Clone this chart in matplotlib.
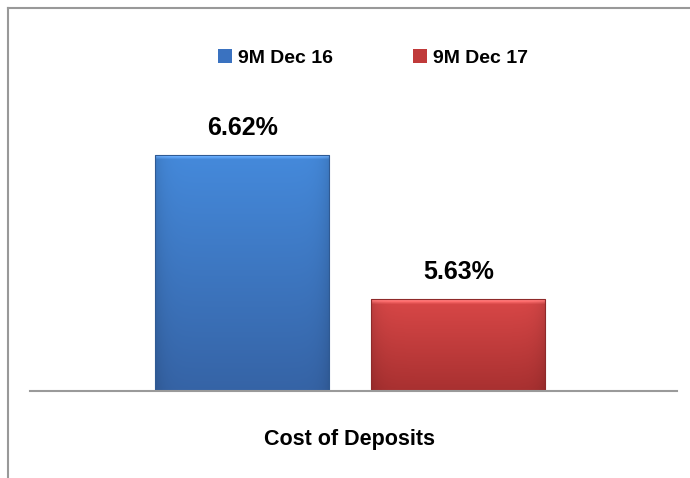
import numpy as np
import matplotlib
matplotlib.use("Agg")
import matplotlib.pyplot as plt
from matplotlib.patches import Patch
from matplotlib.lines import Line2D

plt.rcParams['font.family'] = ['Liberation Sans', 'DejaVu Sans']

# data
category = "Cost of Deposits"
series = ["9M Dec 16", "9M Dec 17"]
values = [6.62, 5.63]
value_labels = ["6.62%", "5.63%"]

# top/bottom gradient colours per series
top_cols = [(0.27, 0.54, 0.86), (0.85, 0.28, 0.28)]
bot_cols = [(0.21, 0.39, 0.65), (0.66, 0.19, 0.19)]
edge_cols = ["#2F5A93", "#8E2A2A"]
legend_cols = ["#3A72C0", "#C03A3A"]

fig = plt.figure(figsize=(6.9, 4.78), dpi=100)
ax = fig.add_axes([30 / 690, 87 / 478, 647 / 690, 291.4 / 478])

offsets = [-0.167, 0.167]
width = 0.269
bars = ax.bar(offsets, [v - 5.0 for v in values], width=width, bottom=5.0,
              color=legend_cols, edgecolor=edge_cols, linewidth=0.8, zorder=4)
for b in bars:
    b.set_facecolor("none")

ax.set_xlim(-0.495, 0.505)
ax.set_ylim(5.0, 7.0)

# gradient fill for each bar, clipped to the bar
px_per_unit = 291.4 / 2.0
for b, tc, bc in zip(bars, top_cols, bot_cols):
    tc = np.array(tc)
    bc = np.array(bc)
    ny = int(b.get_height() * px_per_unit)
    nx = 174
    yy = np.linspace(0, 1, ny)[:, None]
    xx = np.linspace(-1, 1, nx)[None, :]
    img = bc[None, None, :] * (1 - yy[..., None]) + tc[None, None, :] * yy[..., None]
    shade = 1 - 0.12 * (np.abs(xx) ** 10)
    img = img * shade[..., None]
    # thin lighter bevel along the top
    for k, f in zip(range(1, 6), [0.25, 0.2, 0.15, 0.09, 0.04]):
        img[-k, :, :] = np.clip(img[-k, :, :] + f, 0, 1)
    x0, y0 = b.get_x(), b.get_y()
    im = ax.imshow(img, origin="lower", aspect="auto",
                   extent=(x0, x0 + b.get_width(), y0, y0 + b.get_height()),
                   zorder=3)
    im.set_clip_path(b)

for b, lab in zip(bars, value_labels):
    ax.annotate(lab, (b.get_x() + b.get_width() / 2, b.get_y() + b.get_height()),
                xytext=(0, 11), textcoords="offset points",
                ha="center", va="bottom", fontsize=18, fontweight="bold",
                color="black")

ax.set_xlim(-0.495, 0.505)
ax.set_ylim(5.0, 7.0)
ax.set_xticks([])
ax.set_yticks([])
for s in ["top", "right", "left"]:
    ax.spines[s].set_visible(False)
ax.spines["bottom"].set_color("#9a9a9a")
ax.spines["bottom"].set_linewidth(1.5)
ax.spines["bottom"].set_zorder(5)

fig.text(349 / 690, 1 - 440 / 478, category, ha="center", va="center",
         fontsize=15.5, fontweight="bold")

handles = [Patch(facecolor=c, edgecolor="none") for c in legend_cols]
fig.legend(handles, series, loc="center", bbox_to_anchor=(373 / 690, 1 - 58 / 478),
           ncol=2, frameon=False, prop={"size": 14, "weight": "bold"},
           handlelength=0.72, handleheight=0.72, handletextpad=0.3,
           columnspacing=4.1)

# outer frame (top and left edges visible)
fig.add_artist(Line2D([8 / 690, 1], [1 - 8 / 478, 1 - 8 / 478],
                      transform=fig.transFigure, color="#999999", lw=1.5))
fig.add_artist(Line2D([8 / 690, 8 / 690], [0, 1 - 8 / 478],
                      transform=fig.transFigure, color="#999999", lw=1.5))

fig.savefig("out.png", dpi=100)
